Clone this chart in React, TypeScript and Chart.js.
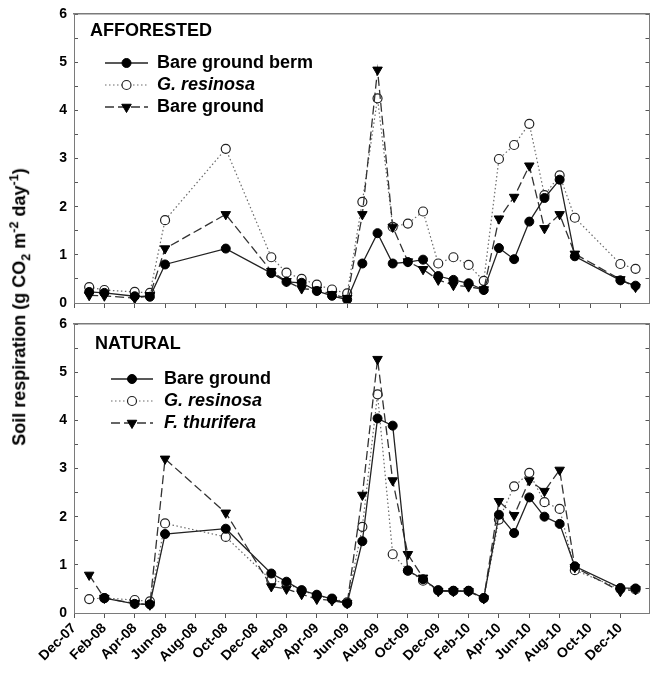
import React, { useEffect, useRef } from 'react';
import { Chart, registerables } from 'chart.js';

Chart.register(...registerables);

// x values are months counted from Dec-07 (Dec-07 = 0)
const tickLabels = ['Dec-07', 'Feb-08', 'Apr-08', 'Jun-08', 'Aug-08', 'Oct-08', 'Dec-08', 'Feb-09', 'Apr-09', 'Jun-09', 'Aug-09', 'Oct-09', 'Dec-09', 'Feb-10', 'Apr-10', 'Jun-10', 'Aug-10', 'Oct-10', 'Dec-10'];

const sampleMonths = [1, 2, 4, 5, 6, 10, 13, 14, 15, 16, 17, 18, 19, 20, 21, 22, 23, 24, 25, 26, 27, 28, 29, 30, 31, 32, 33, 36, 37];
const naturalBareMonths = [2, 4, 5, 6, 10, 13, 14, 15, 16, 17, 18, 19, 20, 21, 22, 23, 24, 25, 26, 27, 28, 29, 30, 31, 32, 33, 36, 37];

// AFFORESTED
const affBerm = [0.23, 0.21, 0.14, 0.13, 0.80, 1.13, 0.62, 0.44, 0.42, 0.25, 0.15, 0.07, 0.82, 1.45, 0.82, 0.85, 0.90, 0.56, 0.48, 0.41, 0.27, 1.14, 0.91, 1.69, 2.18, 2.56, 0.97, 0.47, 0.36];
const affResinosa = [0.33, 0.27, 0.23, 0.21, 1.72, 3.20, 0.95, 0.63, 0.50, 0.38, 0.28, 0.20, 2.10, 4.25, 1.58, 1.65, 1.90, 0.82, 0.95, 0.79, 0.46, 2.99, 3.28, 3.72, 2.24, 2.65, 1.77, 0.81, 0.71];
const affBare = [0.16, 0.15, 0.10, 0.16, 1.13, 1.84, 0.66, 0.45, 0.30, 0.27, 0.18, 0.10, 1.84, 4.84, 1.58, 0.86, 0.70, 0.48, 0.37, 0.34, 0.28, 1.75, 2.20, 2.85, 1.55, 1.84, 1.02, 0.49, 0.33];

// NATURAL
const natBare = [0.31, 0.19, 0.18, 1.64, 1.75, 0.82, 0.65, 0.47, 0.38, 0.29, 0.20, 1.49, 4.04, 3.89, 0.88, 0.70, 0.47, 0.46, 0.46, 0.31, 2.04, 1.66, 2.40, 2.00, 1.85, 0.97, 0.52, 0.51];
const natResinosa = [0.29, 0.31, 0.27, 0.24, 1.86, 1.58, 0.68, 0.62, 0.47, 0.36, 0.30, 0.22, 1.79, 4.54, 1.22, 0.88, 0.67, 0.47, 0.46, 0.46, 0.31, 1.94, 2.63, 2.91, 2.30, 2.16, 0.89, 0.50, 0.49];
const natThurifera = [0.79, 0.31, 0.20, 0.17, 3.20, 2.08, 0.55, 0.50, 0.39, 0.29, 0.26, 0.20, 2.45, 5.27, 2.75, 1.22, 0.73, 0.45, 0.45, 0.45, 0.30, 2.32, 2.03, 2.75, 2.53, 2.97, 0.95, 0.45, 0.49];

const FONT = '"Liberation Sans", Arial, Helvetica, sans-serif';
const X_MAX = 37.92;

const toPoints = (xs: number[], ys: number[]) => xs.map((x, i) => ({ x, y: ys[i] }));

const filledStyle = {
  borderColor: '#222', borderWidth: 1.3, borderDash: [] as number[],
  pointStyle: 'circle', pointRadius: 4.5, pointBackgroundColor: '#000', pointBorderColor: '#000', pointBorderWidth: 1,
  order: 0,
};
const openStyle = {
  borderColor: '#6a6a6a', borderWidth: 1.2, borderDash: [1.5, 2.5],
  pointStyle: 'circle', pointRadius: 4.5, pointBackgroundColor: '#fff', pointBorderColor: '#222', pointBorderWidth: 1.2,
  order: 2,
};
const triStyle = {
  borderColor: '#333', borderWidth: 1.3, borderDash: [9, 4],
  pointStyle: 'triangle', pointRotation: 180, pointRadius: 5.5, pointBackgroundColor: '#000', pointBorderColor: '#000', pointBorderWidth: 1,
  order: 1,
};

const legendPlugin = {
  id: 'panelLegend',
  afterDraw(chart: any, _args: any, opts: any) {
    const ctx = chart.ctx as CanvasRenderingContext2D;
    ctx.save();
    ctx.fillStyle = '#000';
    ctx.textBaseline = 'middle';
    ctx.textAlign = 'left';
    ctx.font = `bold 18px ${FONT}`;
    ctx.fillText(opts.title, opts.titleX, opts.titleY);
    chart.data.datasets.forEach((ds: any, i: number) => {
      const y = opts.rowY[i];
      ctx.strokeStyle = ds.borderColor;
      ctx.lineWidth = ds.borderWidth;
      ctx.setLineDash(ds.borderDash || []);
      ctx.beginPath();
      ctx.moveTo(opts.lineX1, y);
      ctx.lineTo(opts.lineX2, y);
      ctx.stroke();
      ctx.setLineDash([]);
      const mx = (opts.lineX1 + opts.lineX2) / 2;
      const r = ds.pointRadius;
      ctx.beginPath();
      if (ds.pointStyle === 'triangle') {
        let rad = Math.PI;
        ctx.moveTo(mx + Math.sin(rad) * r, y - Math.cos(rad) * r);
        rad += (2 * Math.PI) / 3;
        ctx.lineTo(mx + Math.sin(rad) * r, y - Math.cos(rad) * r);
        rad += (2 * Math.PI) / 3;
        ctx.lineTo(mx + Math.sin(rad) * r, y - Math.cos(rad) * r);
        ctx.closePath();
      } else {
        ctx.arc(mx, y, r, 0, Math.PI * 2);
      }
      ctx.fillStyle = ds.pointBackgroundColor;
      ctx.fill();
      ctx.strokeStyle = ds.pointBorderColor;
      ctx.lineWidth = ds.pointBorderWidth;
      ctx.stroke();
      ctx.fillStyle = '#000';
      ctx.font = `${opts.italic[i] ? 'italic ' : ''}bold 18px ${FONT}`;
      ctx.fillText(ds.label, opts.textX, y);
    });
    ctx.restore();
  },
};

const noPad = (s: any) => {
  s.paddingTop = 0;
  s.paddingBottom = 0;
  s.paddingLeft = 0;
  s.paddingRight = 0;
};

function makeConfig(datasets: any[], showXLabels: boolean, xAxisHeight: number, legend: any): any {
  const tickFont = { family: FONT, size: 14, weight: 'bold' as const };
  return {
    type: 'line',
    data: { datasets },
    plugins: [legendPlugin],
    options: {
      animation: false,
      responsive: false,
      devicePixelRatio: 1,
      events: [],
      layout: { padding: { top: 14, left: 0, right: 0, bottom: 0 } },
      elements: { line: { tension: 0 } },
      plugins: {
        legend: { display: false },
        tooltip: { enabled: false },
        panelLegend: legend,
      },
      scales: {
        x: {
          type: 'linear', position: 'bottom', min: 0, max: X_MAX,
          ticks: {
            display: showXLabels, stepSize: 2, includeBounds: false, autoSkip: false,
            minRotation: 45, maxRotation: 45, color: '#000', font: tickFont, padding: 2,
            callback: (v: number) => tickLabels[Math.round(v / 2)] ?? '',
          },
          grid: { drawOnChartArea: false, drawTicks: true, tickLength: 5, color: '#555', tickColor: '#555' },
          border: { display: true, color: '#7a7a7a', width: 1 },
          afterFit: (s: any) => { s.height = xAxisHeight; noPad(s); },
        },
        x2: {
          type: 'linear', position: 'top', min: 0, max: X_MAX,
          ticks: { display: false },
          grid: { display: false, drawTicks: false },
          border: { display: true, color: '#7a7a7a', width: 1.5 },
          afterFit: (s: any) => { s.height = 0; noPad(s); },
        },
        y: {
          type: 'linear', position: 'left', min: 0, max: 6,
          ticks: {
            stepSize: 0.5, autoSkip: false, color: '#000', font: tickFont, padding: 11,
            callback: (v: number) => (Math.abs(v - Math.round(v)) < 1e-6 ? String(Math.round(v)) : ''),
          },
          grid: { drawOnChartArea: false, drawTicks: true, tickLength: -4, color: '#555', tickColor: '#555' },
          border: { display: true, color: '#7a7a7a', width: 1 },
          afterFit: (s: any) => { s.width = 74; noPad(s); },
        },
        y2: {
          type: 'linear', position: 'right', min: 0, max: 6,
          ticks: { stepSize: 0.5, autoSkip: false, display: false },
          grid: { drawOnChartArea: false, drawTicks: true, tickLength: -4, color: '#555', tickColor: '#555' },
          border: { display: true, color: '#7a7a7a', width: 1 },
          afterFit: (s: any) => { s.width = 0; noPad(s); },
        },
      },
    },
  };
}

export default function App() {
  const topRef = useRef<HTMLCanvasElement>(null);
  const botRef = useRef<HTMLCanvasElement>(null);

  useEffect(() => {
    const top = new Chart(topRef.current as HTMLCanvasElement, makeConfig([
      { label: 'Bare ground berm', data: toPoints(sampleMonths, affBerm), ...filledStyle },
      { label: 'G. resinosa', data: toPoints(sampleMonths, affResinosa), ...openStyle },
      { label: 'Bare ground', data: toPoints(sampleMonths, affBare), ...triStyle },
    ], false, 9, {
      title: 'AFFORESTED', titleX: 90, titleY: 31,
      lineX1: 105, lineX2: 148, textX: 157, rowY: [63, 85, 107], italic: [false, true, false],
    }));
    const bot = new Chart(botRef.current as HTMLCanvasElement, makeConfig([
      { label: 'Bare ground', data: toPoints(naturalBareMonths, natBare), ...filledStyle },
      { label: 'G. resinosa', data: toPoints(sampleMonths, natResinosa), ...openStyle },
      { label: 'F. thurifera', data: toPoints(sampleMonths, natThurifera), ...triStyle },
    ], true, 63, {
      title: 'NATURAL', titleX: 95, titleY: 34,
      lineX1: 111, lineX2: 153, textX: 164, rowY: [69, 91, 113], italic: [false, true, true],
    }));
    return () => { top.destroy(); bot.destroy(); };
  }, []);

  return (
    <div style={{ position: 'absolute', left: 0, top: 0, width: 656, height: 676, background: '#fff', overflow: 'hidden' }}>
      <canvas ref={topRef} width={656} height={312} style={{ position: 'absolute', left: 0, top: 0, width: 656, height: 312 }} />
      <canvas ref={botRef} width={656} height={366} style={{ position: 'absolute', left: 0, top: 310, width: 656, height: 366 }} />
      <div style={{
        position: 'absolute', left: 20, top: 307, transform: 'translate(-50%, -50%) rotate(-90deg)',
        whiteSpace: 'nowrap', font: `bold 18px ${FONT}`, color: '#000', lineHeight: '22px',
      }}>
        Soil respiration (g CO<sub style={{ fontSize: '0.7em' }}>2</sub> m<sup style={{ fontSize: '0.7em' }}>-2</sup> day<sup style={{ fontSize: '0.7em' }}>-1</sup>)
      </div>
    </div>
  );
}
